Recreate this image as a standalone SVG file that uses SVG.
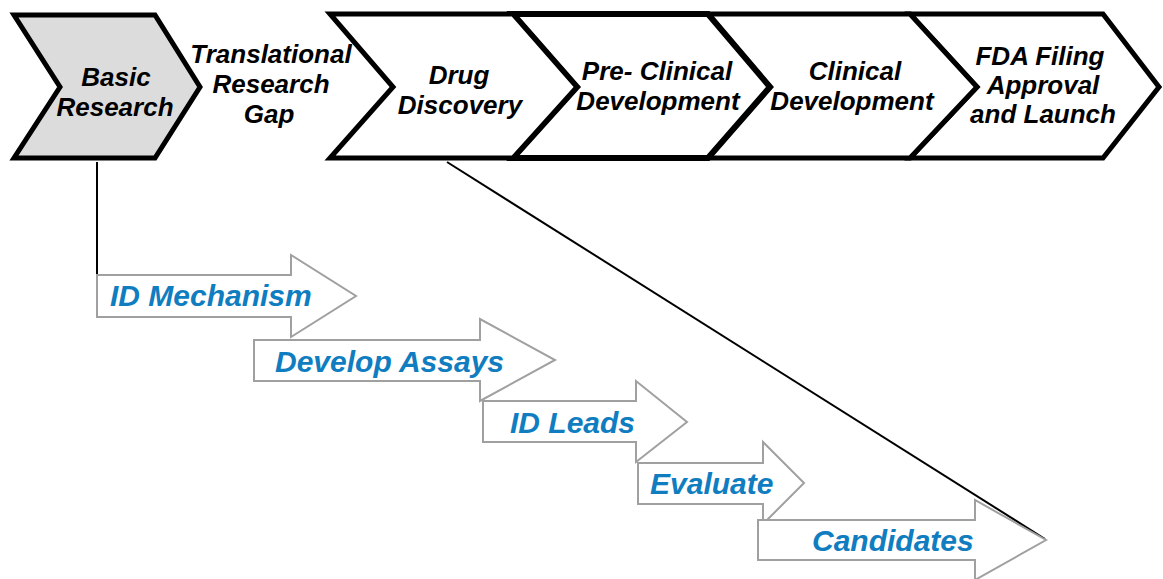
<svg xmlns="http://www.w3.org/2000/svg" width="1163" height="579" viewBox="0 0 1163 579">
<style>
.chev{fill:#ffffff;stroke:#000000;stroke-width:5;stroke-linejoin:miter}
.gray{fill:#dcdcdc}
.lbl{font-family:"Liberation Sans",Arial,sans-serif;font-weight:bold;font-style:italic;font-size:26px;fill:#000000;text-anchor:middle}
.arr{fill:#ffffff;stroke:#a0a0a0;stroke-width:2}
.blue{font-family:"Liberation Sans",Arial,sans-serif;font-weight:bold;font-style:italic;font-size:30px;fill:#0f7dc0}
.conn{stroke:#000000;stroke-width:2;fill:none}
</style>
<rect width="1163" height="579" fill="#ffffff"/>
<g id="connectors">
<line class="conn" x1="97" y1="162" x2="97" y2="275"/>
<line class="conn" x1="447" y1="162" x2="1045" y2="539"/>
</g>
<g id="basic-research">
<polygon class="chev gray" points="14,15 155,15 200,87 155,158 14,158 60,87"/>
<text class="lbl" x="116" y="86">Basic</text>
<text class="lbl" x="115" y="116">Research</text>
</g>
<g id="translational-gap">
<text class="lbl" x="271" y="63">Translational</text>
<text class="lbl" x="271" y="93">Research</text>
<text class="lbl" x="269" y="123">Gap</text>
</g>
<g id="fda-filing">
<polygon class="chev" points="910,14 1103,14 1159,87 1103,158 910,158 977,87"/>
<text class="lbl" x="1040" y="65">FDA Filing</text>
<text class="lbl" x="1043" y="94">Approval</text>
<text class="lbl" x="1043" y="123">and Launch</text>
</g>
<g id="clinical-development">
<polygon class="chev" points="708,14 910,14 977,87 910,158 708,158 770,87"/>
<text class="lbl" x="855" y="80">Clinical</text>
<text class="lbl" x="852" y="110">Development</text>
</g>
<g id="pre-clinical-development">
<polygon class="chev" points="513,14 708,14 770,87 708,158 513,158 577,87" style="stroke-width:6"/>
<text class="lbl" x="657" y="80">Pre- Clinical</text>
<text class="lbl" x="658" y="110">Development</text>
</g>
<g id="drug-discovery">
<polygon class="chev" points="330,14 513,14 577,87 513,158 330,158 393,87"/>
<text class="lbl" x="459" y="84">Drug</text>
<text class="lbl" x="460" y="114">Discovery</text>
</g>
<g id="id-mechanism">
<polygon class="arr" points="97,275 291,275 291,255 356,296 291,337 291,317 97,317"/>
<text class="blue" x="110" y="306">ID Mechanism</text>
</g>
<g id="develop-assays">
<polygon class="arr" points="254,340 480,340 480,319 555,360 480,401 480,381 254,381"/>
<text class="blue" x="275" y="372">Develop Assays</text>
</g>
<g id="id-leads">
<polygon class="arr" points="483,401 636,401 636,381 687,422 636,462 636,442 483,442"/>
<text class="blue" x="510" y="433">ID Leads</text>
</g>
<g id="evaluate">
<polygon class="arr" points="638,463 763,463 763,442 804,483 763,524 763,504 638,504"/>
<text class="blue" x="650" y="494">Evaluate</text>
</g>
<g id="candidates">
<polygon class="arr" points="758,520 975,520 975,500 1046,540 975,580 975,560 758,560"/>
<text class="blue" x="812" y="551">Candidates</text>
</g>
</svg>
